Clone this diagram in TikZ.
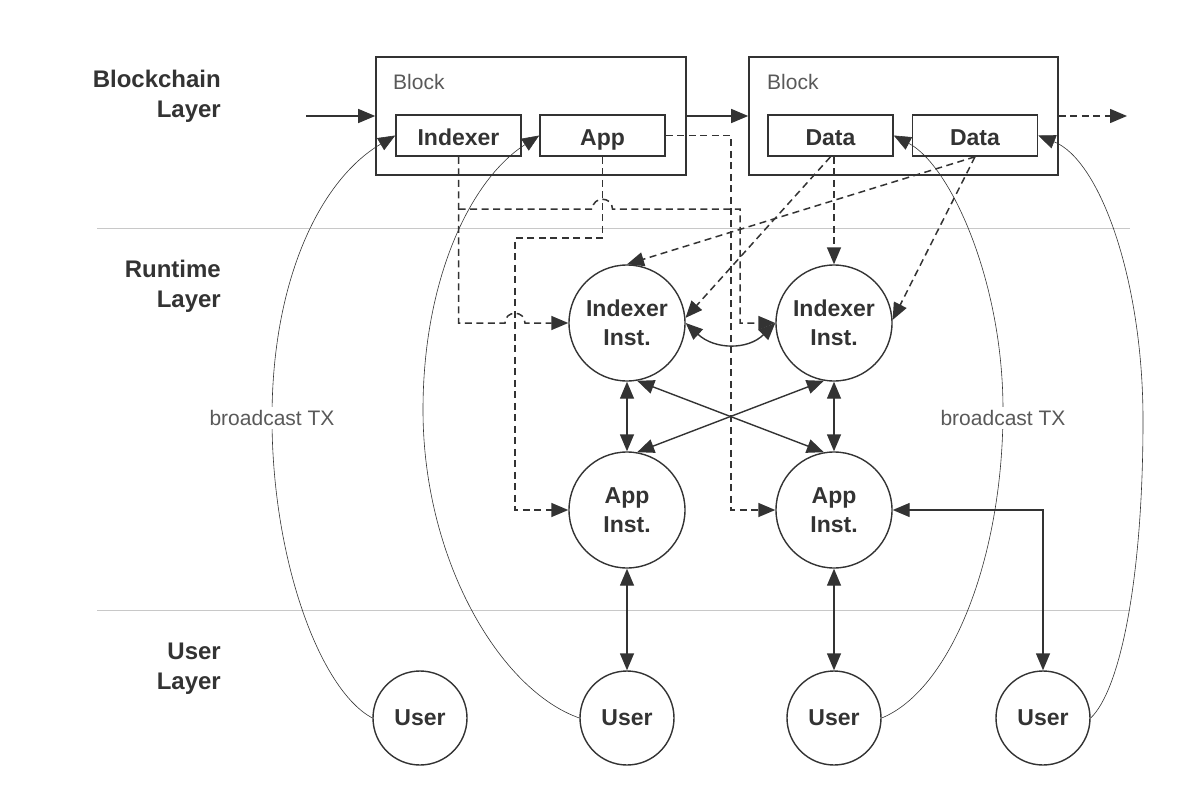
\documentclass[tikz,border=0pt]{standalone}
\usepackage{fontspec}
\setmainfont{Liberation Sans}
\usetikzlibrary{arrows.meta}
\definecolor{ink}{HTML}{333333}
\definecolor{soft}{HTML}{595959}
\definecolor{sepc}{HTML}{C8C8C8}
\begin{document}
\begin{tikzpicture}[x=1pt,y=-1pt,
  bigbox/.style={draw=ink, line width=1.6pt, minimum width=310pt, minimum height=118pt, inner sep=0pt},
  smallbox/.style={draw=ink, line width=1.6pt, minimum width=125pt, minimum height=41pt, inner sep=0pt, text=ink, text height=21pt, text depth=2pt, font=\fontsize{23}{29}\selectfont\bfseries},
  inst/.style={circle, draw=ink, line width=1.4pt, minimum size=116pt, inner sep=0pt, align=center, text=ink, font=\fontsize{23}{29}\selectfont\bfseries},
  usr/.style={circle, draw=ink, line width=1.4pt, minimum size=94pt, inner sep=0pt, text=ink, font=\fontsize{23}{29}\selectfont\bfseries},
  layerlbl/.style={anchor=east, align=right, text=ink, inner sep=0pt, font=\fontsize{24}{30}\selectfont\bfseries},
  graylbl/.style={text=soft, inner sep=0pt, font=\fontsize{21}{25}\selectfont},
  sline/.style={draw=ink, line width=1.4pt},
  dline/.style={draw=ink, line width=1.5pt, dash pattern=on 7pt off 4.5pt},
  fine/.style={draw=ink, line width=0.6pt},
  tipend/.style={-{Triangle[length=17pt,width=14pt]}},
  tipboth/.style={{Triangle[length=17pt,width=14pt]}-{Triangle[length=17pt,width=14pt]}},
  sepline/.style={draw=sepc, line width=0.9pt}
]
\useasboundingbox (0,0) rectangle (1200,808);

% layer separators
\draw[sepline] (97,228) -- (1130,228);
\draw[sepline] (97,610) -- (1130,610);

% layer labels
\node[layerlbl] (L1) at (221,96) {Blockchain\\Layer};
\node[layerlbl] (L2) at (221,286) {Runtime\\Layer};
\node[layerlbl] (L3) at (221,669) {User\\Layer};

% blocks
\node[bigbox] (B1) at (531,116) {};
\node[bigbox, minimum width=309pt] (B2) at (903.5,116) {};
\node[graylbl, anchor=base west] (bl1) at (393,89) {Block};
\node[graylbl, anchor=base west] (bl2) at (767,89) {Block};
\node[smallbox] (Idx) at (458.5,135.5) {Indexer};
\node[smallbox] (App) at (602.5,135.5) {App};
\node[smallbox] (D1) at (830.5,135.5) {Data};
\node[smallbox] (D2) at (975,135.5) {Data};

% runtime nodes
\node[inst] (iL) at (627,323) {Indexer\\Inst.};
\node[inst] (iR) at (834,323) {Indexer\\Inst.};
\node[inst] (aL) at (627,510) {App\\Inst.};
\node[inst] (aR) at (834,510) {App\\Inst.};

% users
\node[usr] (U1) at (420,718) {User};
\node[usr] (U2) at (627,718) {User};
\node[usr] (U3) at (834,718) {User};
\node[usr] (U4) at (1043,718) {User};

% chain arrows
\coordinate (inA) at (306,116);
\coordinate (outA) at (1127,116);
\draw[sline, tipend] (inA) -- (B1.west);
\draw[sline, tipend] (B1.east) -- (B2.west);
\draw[dline, tipend] (B2.east) -- (outA);

% dashed from Indexer box
\coordinate (j1) at (458.5,209);
\draw[dline, tipend] (Idx.south) -- (Idx.south |- iL.west) -- (505,323)
  .. controls (505,310) and (525,310) .. (525,323) -- (iL.west);
\draw[dline, tipend] (j1) -- (592.5,209)
  .. controls (592.5,196) and (612.5,196) .. (612.5,209) -- (740,209) -- (740,323) -- (iR.west);

% dashed from App box
\draw[dline, tipend] (App.south) -- (602.5,238) -- (515,238) -- (515,510) -- (aL.west);
\draw[dline, tipend] (App.east) -- (731,135.5) -- (731,510) -- (aR.west);

% dashed from Data boxes
\draw[dline, tipend] (D1.south) -- (iL.5);
\draw[dline, tipend] (iR.north |- D1.south) -- (iR.north);
\draw[dline, tipend] (D2.south) -- (iL.north);
\draw[dline, tipend] (D2.south) -- (iR.3);

% runtime interconnections
\draw[sline, tipboth] (iL.east) .. controls (715,350) and (748,350) .. (iR.west);
\draw[sline, tipboth] (iL.south) -- (aL.north);
\draw[sline, tipboth] (iR.south) -- (aR.north);
\draw[sline, tipboth] (iL.-80) -- (aR.100);
\draw[sline, tipboth] (iR.-100) -- (aL.80);

% app instances to users
\draw[sline, tipboth] (aL.south) -- (U2.north);
\draw[sline, tipboth] (aR.south) -- (U3.north);
\draw[sline, tipboth] (aR.east) -- (U4.north |- aR.east) -- (U4.north);

% broadcast curves
\draw[fine, tipend] (U1.west) .. controls (320,690) and (272,560) .. (272,418)
  .. controls (272,280) and (320,180) .. (Idx.west);
\draw[fine, tipend] (U2.west) .. controls (500,690) and (423,560) .. (423,410)
  .. controls (423,280) and (470,180) .. (App.west);
\draw[fine, tipend] (U3.east) .. controls (950,690) and (1003,560) .. (1003,410)
  .. controls (1003,280) and (950,165) .. (D1.east);
\draw[fine, tipend] (U4.east) .. controls (1120,690) and (1143,580) .. (1143,420)
  .. controls (1143,280) and (1100,160) .. (D2.east);

\node[graylbl, fill=white, inner sep=3pt] (bc1) at (272,418) {broadcast TX};
\node[graylbl, fill=white, inner sep=3pt] (bc2) at (1003,418) {broadcast TX};
\end{tikzpicture}
\end{document}
